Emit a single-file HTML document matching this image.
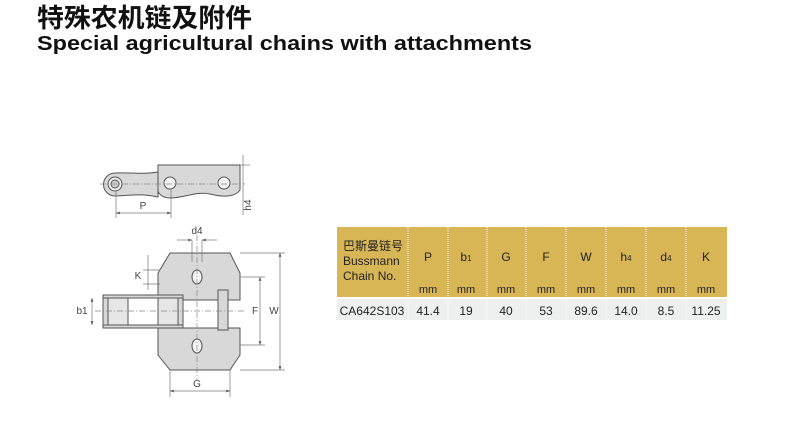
<!DOCTYPE html>
<html><head><meta charset="utf-8"><style>
html,body{margin:0;padding:0;background:#fff;}
svg{display:block;}
text{font-family:"Liberation Sans","Noto Sans CJK SC",sans-serif;}
</style></head><body>
<svg width="800" height="424" viewBox="0 0 800 424" xmlns="http://www.w3.org/2000/svg">
<defs>
<marker id="a" viewBox="0 0 8 6" refX="8" refY="3" markerWidth="6" markerHeight="4" orient="auto-start-reverse"><path d="M0,0 L8,3 L0,6 Z" fill="#555"/></marker>
</defs>
<text x="37" y="27" font-size="26" font-weight="bold" fill="#111" textLength="215" lengthAdjust="spacingAndGlyphs">特殊农机链及附件</text>
<text x="37" y="50" font-size="20" font-weight="bold" fill="#111" textLength="495" lengthAdjust="spacingAndGlyphs">Special agricultural chains with attachments</text>

<g stroke="#555" stroke-width="1" fill="#d8d8d8">
<path d="M115,173 C125,172 140,175 158,172 L158,197 C140,193 125,196 115,196 A11.5,11.5 0 0 1 115,173 Z"/>
<path d="M158,165 L240,165 L240,190 C236,196 226,198 210,194 C196,191 184,198 170,198 C163,198 158,194 158,190 Z"/>
<circle cx="115" cy="184" r="7" fill="#eee"/><circle cx="115" cy="184" r="4" fill="#ccc"/>
<ellipse cx="170" cy="183" rx="6" ry="6" fill="#f3f3f3"/>
<ellipse cx="224" cy="183" rx="6" ry="6" fill="#f3f3f3"/>
<path d="M170,253 L230,253 L240,273 L240,300 L158,300 L158,273 Z"/>
<path d="M158,328 L240,328 L240,355 L230,370 L170,370 L158,355 Z"/>
<rect x="218" y="290" width="10" height="40"/>
<rect x="103" y="295" width="80" height="33"/>
<rect x="108" y="298" width="70" height="27" fill="#e6e6e6"/>
<rect x="128" y="298" width="30" height="27" fill="#fff"/>
<line x1="103" y1="298" x2="183" y2="298"/><line x1="103" y1="325" x2="183" y2="325"/>
<ellipse cx="197" cy="277" rx="5" ry="7" fill="#f3f3f3"/>
<ellipse cx="197" cy="346" rx="5" ry="7" fill="#f3f3f3"/>
</g>
<g stroke="#888" stroke-width="0.7" fill="none" stroke-dasharray="6,2,1,2">
<line x1="100" y1="184" x2="245" y2="184"/>
<line x1="197" y1="235" x2="197" y2="380"/>
<line x1="95" y1="311" x2="245" y2="311"/>
</g>
<g stroke="#777" stroke-width="0.7" fill="none">
<line x1="116" y1="190" x2="116" y2="218"/><line x1="171" y1="190" x2="171" y2="218"/>
<line x1="116" y1="213" x2="171" y2="213" marker-start="url(#a)" marker-end="url(#a)"/>
<line x1="240" y1="165" x2="250" y2="165"/><line x1="243" y1="155" x2="243" y2="215"/>
<line x1="192" y1="240" x2="192" y2="262"/><line x1="202" y1="240" x2="202" y2="262"/>
<line x1="177" y1="240" x2="192" y2="240" marker-end="url(#a)"/><line x1="217" y1="240" x2="202" y2="240" marker-end="url(#a)"/>
<line x1="148" y1="255" x2="148" y2="290"/><line x1="143" y1="270" x2="160" y2="270"/><line x1="143" y1="284" x2="160" y2="284"/>
<line x1="92" y1="298" x2="92" y2="325" marker-start="url(#a)" marker-end="url(#a)"/>
<line x1="240" y1="277" x2="265" y2="277"/><line x1="240" y1="345" x2="265" y2="345"/>
<line x1="260" y1="277" x2="260" y2="345" marker-start="url(#a)" marker-end="url(#a)"/>
<line x1="240" y1="253" x2="285" y2="253"/><line x1="240" y1="370" x2="285" y2="370"/>
<line x1="280" y1="253" x2="280" y2="370" marker-start="url(#a)" marker-end="url(#a)"/>
<line x1="170" y1="370" x2="170" y2="397"/><line x1="230" y1="370" x2="230" y2="397"/>
<line x1="170" y1="391" x2="230" y2="391" marker-start="url(#a)" marker-end="url(#a)"/>
</g>
<g font-size="10" fill="#444" text-anchor="middle">
<text x="143" y="209">P</text>
<text x="197" y="234">d4</text>
<text x="138" y="279">K</text>
<text x="82" y="314">b1</text>
<text x="255" y="314">F</text>
<text x="274" y="314">W</text>
<text x="197" y="387">G</text>
<text transform="translate(251,205) rotate(-90)">h4</text>
</g>

<rect x="337" y="227" width="390" height="71" fill="#d8b656"/>
<line x1="337" y1="298" x2="727" y2="298" stroke="#fff" stroke-width="2"/>
<rect x="337" y="299" width="390" height="21" fill="#eef0f0"/>
<g stroke="#fff" stroke-width="1" stroke-dasharray="1,1">
<line x1="408" y1="227" x2="408" y2="320"/><line x1="448" y1="227" x2="448" y2="320"/>
<line x1="487" y1="227" x2="487" y2="320"/><line x1="526" y1="227" x2="526" y2="320"/>
<line x1="566" y1="227" x2="566" y2="320"/><line x1="606" y1="227" x2="606" y2="320"/>
<line x1="646" y1="227" x2="646" y2="320"/><line x1="686" y1="227" x2="686" y2="320"/>
</g>
<g font-size="12" fill="#222">
<text x="343" y="250">巴斯曼链号</text>
<text x="343" y="265">Bussmann</text>
<text x="343" y="280">Chain No.</text>
</g>
<g font-size="12" fill="#222" text-anchor="middle">
<text x="428" y="261">P</text><text x="466" y="261">b<tspan font-size="8">1</tspan></text>
<text x="506" y="261">G</text><text x="546" y="261">F</text><text x="586" y="261">W</text>
<text x="626" y="261">h<tspan font-size="8">4</tspan></text><text x="666" y="261">d<tspan font-size="8">4</tspan></text>
<text x="706" y="261">K</text>
<g font-size="11"><text x="428" y="293">mm</text><text x="466" y="293">mm</text><text x="506" y="293">mm</text><text x="546" y="293">mm</text><text x="586" y="293">mm</text><text x="626" y="293">mm</text><text x="666" y="293">mm</text><text x="706" y="293">mm</text></g>
<text x="372" y="315">CA642S103</text>
<text x="428" y="315">41.4</text><text x="466" y="315">19</text><text x="506" y="315">40</text><text x="546" y="315">53</text><text x="586" y="315">89.6</text><text x="626" y="315">14.0</text><text x="666" y="315">8.5</text><text x="706" y="315">11.25</text>
</g>
</svg>
</body></html>
